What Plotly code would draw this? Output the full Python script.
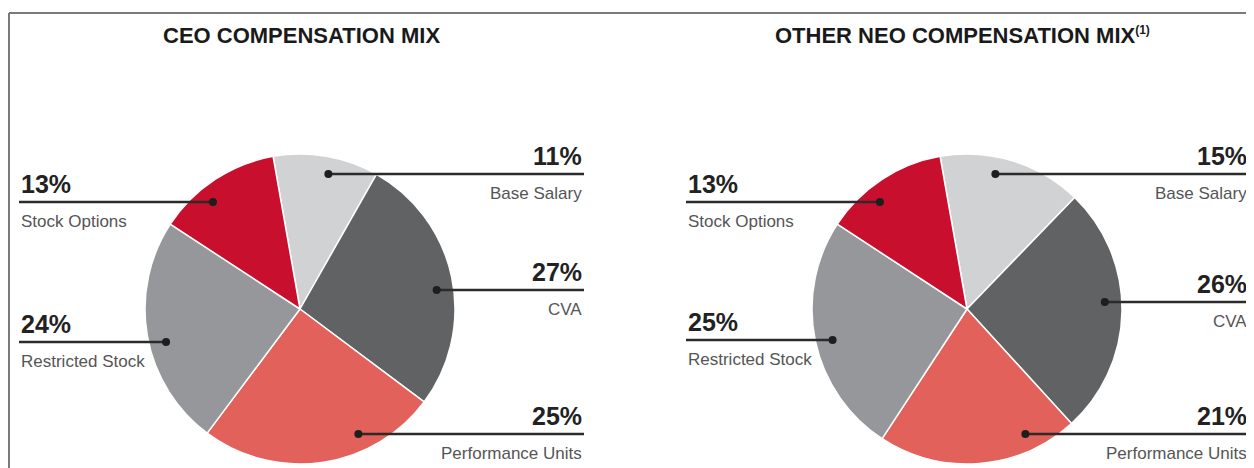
import plotly.graph_objects as go

# ---------------- data ----------------
categories = ["Base Salary", "CVA", "Performance Units", "Restricted Stock", "Stock Options"]
ceo_values = [11, 27, 25, 24, 13]
neo_values = [15, 26, 21, 25, 13]
titles = ["CEO COMPENSATION MIX",
          "OTHER NEO COMPENSATION MIX<sup><span style='font-size:12px'>(1)</span></sup>"]
colors = ["#d1d2d4", "#616264", "#e2615a", "#96979b", "#c8102e"]

# ---------------- layout constants (screen pixels) ----------------
W, H = 1254, 468
OFF = 8                      # browser body margin
FW, FH = W - OFF, H - OFF    # figure size
R = 155
CY = 309
CX = [300, 967]
TITLE_X = [301, 962]
sides = ["right", "right", "right", "left", "left"]
line_y = [[174, 290, 434, 342, 202], [174, 302, 434, 340, 202]]
LEFT_X = [19, 686]
RIGHT_X = [584, 1249]
DOT_FRAC = 0.89

SANS = "Liberation Sans, Arial, sans-serif"


def px(x):
    return (x - OFF) / FW


def py(y):
    return 1 - (y - OFF) / FH


fig = go.Figure()
shapes = []
annotations = []

for i, vals in enumerate([ceo_values, neo_values]):
    cx = CX[i]
    fig.add_trace(go.Pie(
        labels=categories,
        values=vals,
        sort=False,
        direction="clockwise",
        rotation=-10,
        marker=dict(colors=colors, line=dict(color="white", width=1.5)),
        textinfo="none",
        hoverinfo="label+percent",
        domain=dict(x=[px(cx - R), px(cx + R)], y=[py(CY + R), py(CY - R)]),
        showlegend=False,
    ))
    annotations.append(dict(
        text=titles[i], x=px(TITLE_X[i]), y=py(36), xref="paper", yref="paper",
        xanchor="center", yanchor="middle", showarrow=False,
        font=dict(family=SANS, size=22, color="#1a1a1a", weight="bold"),
    ))
    for j, cat in enumerate(categories):
        ly = line_y[i][j]
        r = DOT_FRAC * R
        dx = (max(r * r - (ly - CY) ** 2, 0)) ** 0.5
        if sides[j] == "right":
            dot_x = cx + dx
            end_x = RIGHT_X[i]
            anchor = "right"
        else:
            dot_x = cx - dx
            end_x = LEFT_X[i]
            anchor = "left"
        shapes.append(dict(type="line", xref="paper", yref="paper",
                           x0=px(dot_x), x1=px(end_x), y0=py(ly), y1=py(ly),
                           line=dict(color="#2b2b2b", width=2.5)))
        shapes.append(dict(type="circle", xref="paper", yref="paper",
                           x0=px(dot_x - 4), x1=px(dot_x + 4),
                           y0=py(ly + 4), y1=py(ly - 4),
                           fillcolor="#1e1e1e", line=dict(width=0)))
        annotations.append(dict(
            text=f"{vals[j]}%", x=px(end_x), y=py(ly - 18), xref="paper", yref="paper",
            xanchor=anchor, yanchor="middle", showarrow=False,
            font=dict(family=SANS, size=25, color="#222222", weight="bold"),
        ))
        annotations.append(dict(
            text=cat, x=px(end_x), y=py(ly + 19), xref="paper", yref="paper",
            xanchor=anchor, yanchor="middle", showarrow=False,
            font=dict(family=SANS, size=17, color="#555555"),
        ))

# frame: top and left border
shapes.append(dict(type="line", xref="paper", yref="paper", x0=px(OFF + 1), x1=1,
                   y0=py(13), y1=py(13), line=dict(color="#7a7a7a", width=2)))
shapes.append(dict(type="line", xref="paper", yref="paper", x0=px(OFF + 1), x1=px(OFF + 1),
                   y0=py(13), y1=0, line=dict(color="#7a7a7a", width=2)))

fig.update_layout(
    width=FW, height=FH,
    margin=dict(l=0, r=0, t=0, b=0),
    paper_bgcolor="white", plot_bgcolor="white",
    shapes=shapes, annotations=annotations,
)

fig.write_html("out.html")
